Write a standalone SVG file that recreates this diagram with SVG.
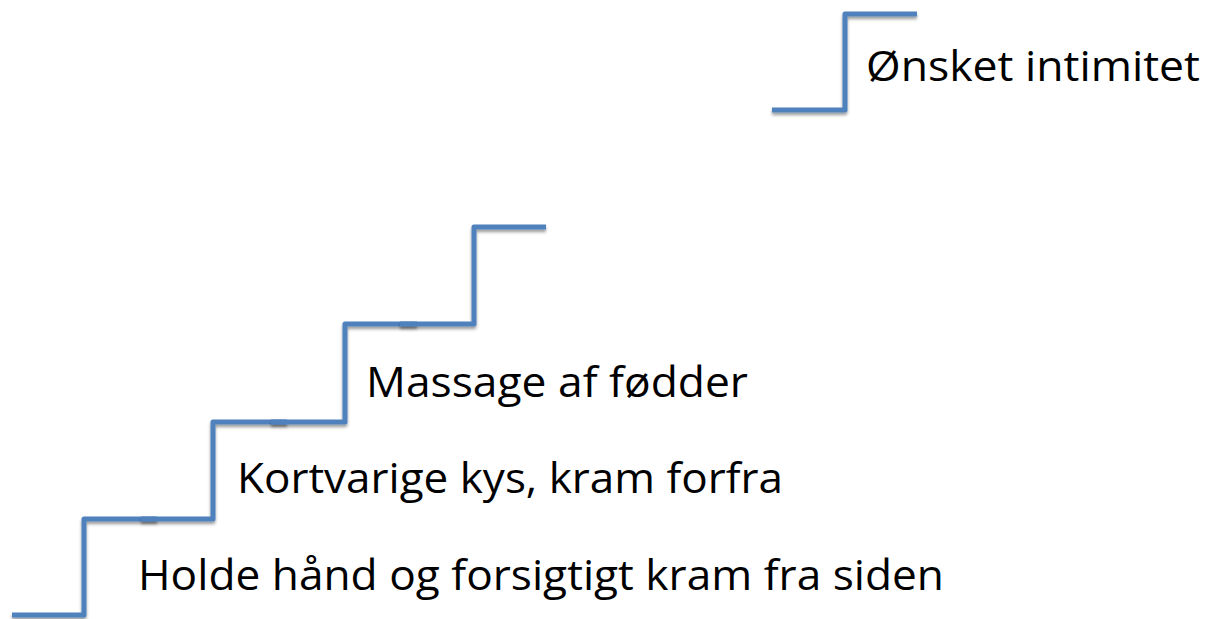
<svg xmlns="http://www.w3.org/2000/svg" width="1209" height="619" viewBox="0 0 1209 619">
  <defs>
    <filter id="shadow" x="-10%" y="-10%" width="120%" height="130%">
      <feDropShadow dx="0" dy="2.5" stdDeviation="1.6" flood-color="#000" flood-opacity="0.4"/>
    </filter>
  </defs>
  <style>
    .step { fill: none; stroke: #4F81BD; stroke-width: 5; stroke-linejoin: round; stroke-linecap: butt; filter: url(#shadow); }
    .label { font-family: "Open Sans", "Noto Sans", "Liberation Sans", sans-serif; font-size: 42px; fill: #000; }
  </style>
  <rect width="1209" height="619" fill="#fff"/>
  <g id="connectors">
    <path class="step" d="M12,615 H84 V519 H157"/>
    <path class="step" d="M141,519 H213 V422 H287"/>
    <path class="step" d="M271,422 H345 V324 H417"/>
    <path class="step" d="M400,324 H474 V227 H546"/>
    <path class="step" d="M772,110 H845 V14 H917"/>
  </g>
  <g id="node-holde">
    <text class="label" x="138" y="590" textLength="806" lengthAdjust="spacingAndGlyphs">Holde hånd og forsigtigt kram fra siden</text>
  </g>
  <g id="node-kortvarige">
    <text class="label" x="237" y="493" textLength="546" lengthAdjust="spacingAndGlyphs">Kortvarige kys, kram forfra</text>
  </g>
  <g id="node-massage">
    <text class="label" x="366" y="397" textLength="382" lengthAdjust="spacingAndGlyphs">Massage af fødder</text>
  </g>
  <g id="node-onsket">
    <text class="label" x="866" y="81" textLength="334" lengthAdjust="spacingAndGlyphs">Ønsket intimitet</text>
  </g>
</svg>
